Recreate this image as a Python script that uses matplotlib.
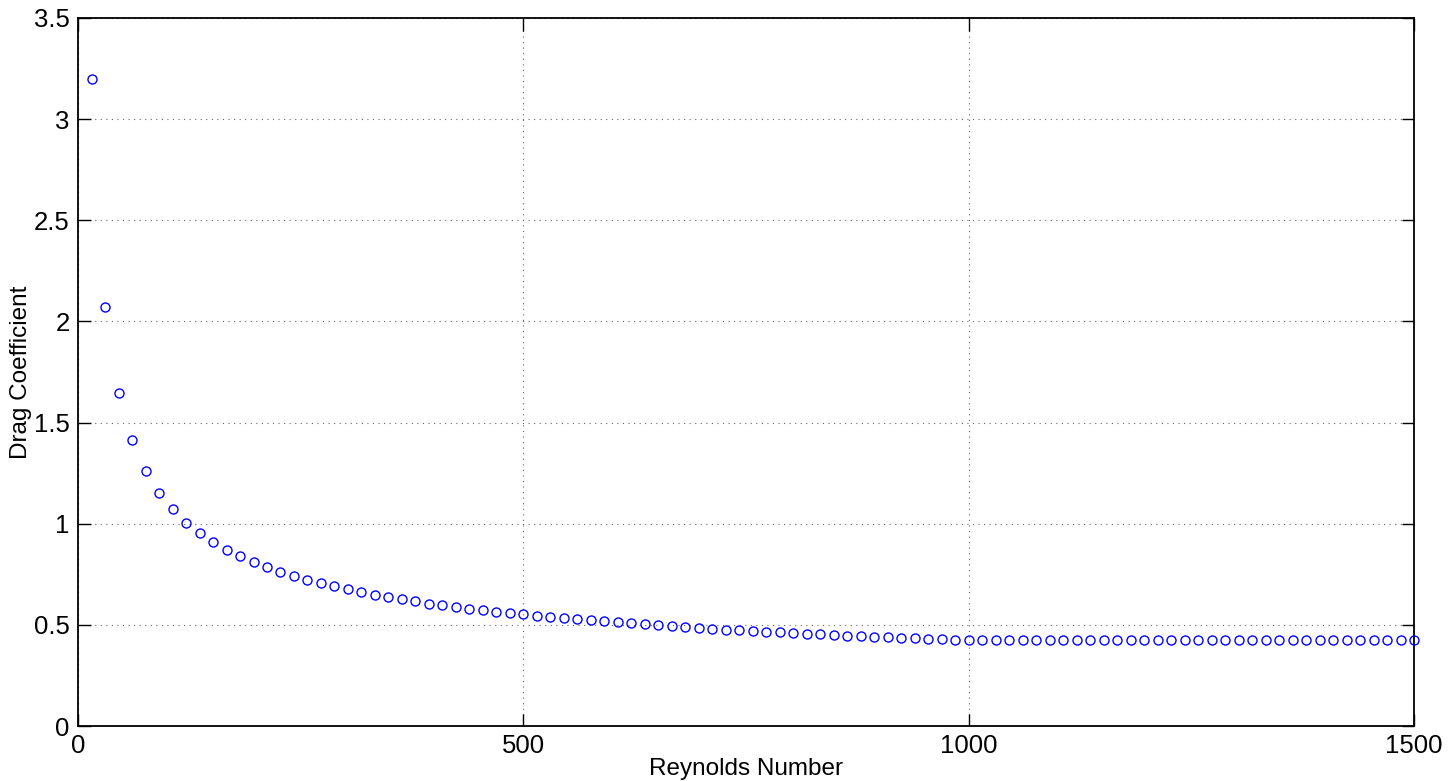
import matplotlib.pyplot as plt

plt.rcParams['font.family'] = ['Liberation Sans', 'DejaVu Sans']

reynolds = [
    15.2, 30.3, 45.5, 60.6, 75.8, 90.9, 106.1, 121.2, 136.4, 151.5,
    166.7, 181.8, 197.0, 212.1, 227.3, 242.4, 257.6, 272.7, 287.9, 303.0,
    318.2, 333.3, 348.5, 363.6, 378.8, 393.9, 409.1, 424.2, 439.4, 454.5,
    469.7, 484.8, 500.0, 515.2, 530.3, 545.5, 560.6, 575.8, 590.9, 606.1,
    621.2, 636.4, 651.5, 666.7, 681.8, 697.0, 712.1, 727.3, 742.4, 757.6,
    772.7, 787.9, 803.0, 818.2, 833.3, 848.5, 863.6, 878.8, 893.9, 909.1,
    924.2, 939.4, 954.5, 969.7, 984.8, 1000.0, 1015.2, 1030.3, 1045.5, 1060.6,
    1075.8, 1090.9, 1106.1, 1121.2, 1136.4, 1151.5, 1166.7, 1181.8, 1197.0, 1212.1,
    1227.3, 1242.4, 1257.6, 1272.7, 1287.9, 1303.0, 1318.2, 1333.3, 1348.5, 1363.6,
    1378.8, 1393.9, 1409.1, 1424.2, 1439.4, 1454.5, 1469.7, 1484.8, 1500.0,
]

drag = [
    3.198, 2.073, 1.647, 1.412, 1.261, 1.153, 1.071, 1.005, 0.952, 0.908,
    0.871, 0.838, 0.810, 0.784, 0.761, 0.741, 0.723, 0.705, 0.690, 0.675,
    0.662, 0.649, 0.637, 0.626, 0.616, 0.605, 0.597, 0.590, 0.579, 0.573,
    0.566, 0.559, 0.553, 0.546, 0.540, 0.533, 0.528, 0.523, 0.518, 0.513,
    0.508, 0.503, 0.499, 0.494, 0.489, 0.484, 0.480, 0.477, 0.474, 0.470,
    0.467, 0.464, 0.462, 0.457, 0.454, 0.450, 0.447, 0.444, 0.441, 0.439,
    0.436, 0.434, 0.431, 0.429, 0.426, 0.424, 0.424, 0.424, 0.424, 0.424,
    0.424, 0.424, 0.424, 0.424, 0.424, 0.424, 0.424, 0.424, 0.424, 0.424,
    0.424, 0.424, 0.424, 0.424, 0.424, 0.424, 0.424, 0.424, 0.424, 0.424,
    0.424, 0.424, 0.424, 0.424, 0.424, 0.424, 0.424, 0.424, 0.424,
]

x_ticks = [0, 500, 1000, 1500]
y_ticks = [0, 0.5, 1, 1.5, 2, 2.5, 3, 3.5]
y_tick_labels = ['0', '0.5', '1', '1.5', '2', '2.5', '3', '3.5']

fig = plt.figure(figsize=(14.56, 7.81), dpi=100)
ax = fig.add_axes([0.0536, 0.0704, 0.9176, 0.9066])

ax.plot(reynolds, drag, 'o', color='blue', markerfacecolor='none',
        markersize=6.5, markeredgewidth=1.0, clip_on=False, zorder=3)

ax.set_xlim(0, 1500)
ax.set_ylim(0, 3.5)
ax.set_xticks(x_ticks)
ax.set_yticks(y_ticks)
ax.set_yticklabels(y_tick_labels)

ax.grid(True, linestyle=(0, (1, 4)), color='#666666', linewidth=0.8)
ax.tick_params(direction='in', length=9, width=1.0, labelsize=18.5,
               top=True, right=True, pad=6)
for s in ax.spines.values():
    s.set_linewidth(1.3)

ax.set_xlabel('Reynolds Number', fontsize=17.5, labelpad=0)
ax.set_ylabel('Drag Coefficient', fontsize=17.5, labelpad=1)

fig.savefig('out.png', dpi=100)
